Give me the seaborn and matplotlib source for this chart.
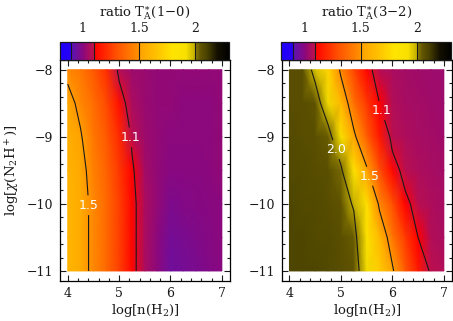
import numpy as np
import matplotlib
matplotlib.use('Agg')
import matplotlib.pyplot as plt
from matplotlib.colors import LinearSegmentedColormap, Normalize
from matplotlib.cm import ScalarMappable
from matplotlib.ticker import MultipleLocator, FixedLocator
import seaborn as sns

# grid: log n(H2) columns, log X(N2H+) rows
log_n = [4.0, 4.25, 4.5, 4.75, 5.0, 5.25, 5.5, 5.75, 6.0, 6.25, 6.5, 6.75, 7.0]
log_x = [-8.0, -8.5, -9.0, -9.5, -10.0, -10.5, -11.0]

# ratio T_A*(1-0), one row per log_x value
ratio_10 = [
    [1.47, 1.42, 1.33, 1.22, 1.08, 1.04, 1.03, 1.02, 1.02, 1.02, 1.02, 1.02, 1.02],
    [1.54, 1.47, 1.39, 1.29, 1.14, 1.06, 1.03, 1.02, 1.02, 1.01, 1.01, 1.01, 1.02],
    [1.57, 1.51, 1.42, 1.33, 1.21, 1.09, 1.04, 1.02, 1.01, 1.01, 1.01, 1.01, 1.02],
    [1.59, 1.54, 1.45, 1.36, 1.24, 1.11, 1.05, 1.02, 1.00, 1.00, 1.00, 1.01, 1.02],
    [1.60, 1.55, 1.47, 1.38, 1.26, 1.12, 1.06, 1.02, 0.98, 0.99, 0.995, 1.00, 1.01],
    [1.60, 1.55, 1.47, 1.38, 1.26, 1.12, 1.06, 1.01, 0.96, 0.97, 0.985, 0.995, 1.01],
    [1.60, 1.55, 1.47, 1.38, 1.26, 1.12, 1.06, 1.01, 0.95, 0.96, 0.975, 0.99, 1.00],
]

# ratio T_A*(3-2)
ratio_32 = [
    [2.07, 2.07, 1.97, 1.74, 1.47, 1.28, 1.115, 1.08, 1.06, 1.05, 1.045, 1.04, 1.04],
    [2.07, 2.07, 2.05, 1.93, 1.62, 1.40, 1.24, 1.10, 1.07, 1.055, 1.05, 1.045, 1.04],
    [2.08, 2.07, 2.06, 2.04, 1.90, 1.53, 1.35, 1.16, 1.085, 1.065, 1.055, 1.05, 1.045],
    [2.08, 2.08, 2.07, 2.06, 2.02, 1.82, 1.52, 1.30, 1.12, 1.085, 1.065, 1.055, 1.05],
    [2.09, 2.08, 2.08, 2.07, 2.05, 1.99, 1.78, 1.47, 1.30, 1.11, 1.085, 1.065, 1.055],
    [2.09, 2.09, 2.08, 2.08, 2.06, 2.04, 1.86, 1.62, 1.42, 1.25, 1.10, 1.075, 1.06],
    [2.09, 2.09, 2.09, 2.08, 2.07, 2.05, 1.93, 1.70, 1.52, 1.33, 1.16, 1.09, 1.07],
]

titles = [r'ratio T$_\mathrm{A}^{\ast}$(1$-$0)', r'ratio T$_\mathrm{A}^{\ast}$(3$-$2)']
contour_levels = [1.1, 1.5, 2.0]
bar_lines = [0.9, 1.1, 1.5, 2.0]
bar_ticks = [1, 1.5, 2]
bar_ticklabels = ['1', '1.5', '2']

# colour scale as seen on the colour bars
cmap_nodes = [0.80, 0.895, 0.90, 1.00, 1.095, 1.10, 1.30, 1.495, 1.50,
              1.65, 1.80, 1.92, 1.995, 2.00, 2.05, 2.10, 2.20, 2.30]
cmap_colors = ['#1e00ff', '#2800f0', '#5a14b4', '#880880', '#c0104a', '#ff0000',
               '#ff5000', '#ff9000', '#ffa000', '#ffc000', '#ffe400', '#f8e000',
               '#c4b000', '#8c7c00', '#605400', '#4c4400', '#141000', '#000000']

sns.set_theme(style='ticks')
plt.rcParams['font.family'] = ['DejaVu Serif']
plt.rcParams['mathtext.fontset'] = 'dejavuserif'
plt.rcParams['axes.edgecolor'] = 'black'
plt.rcParams['axes.linewidth'] = 0.9

vmin, vmax = cmap_nodes[0], cmap_nodes[-1]
pos = [(v - vmin) / (vmax - vmin) for v in cmap_nodes]
cmap = LinearSegmentedColormap.from_list('ratio', list(zip(pos, cmap_colors)))
norm = Normalize(vmin=vmin, vmax=vmax)

label_pos = [
    [(5.21, -9.01), (4.40, -10.02)],
    [(4.91, -9.19), (5.55, -9.59), (5.83, -8.60)],
]

fig = plt.figure(figsize=(4.53, 3.21), dpi=100)
ax_rects = [[0.1325, 0.1246, 0.3753, 0.6885], [0.6219, 0.1246, 0.3760, 0.6885]]
cax_rects = [[0.1325, 0.8131, 0.3730, 0.0560], [0.6210, 0.8131, 0.3750, 0.0560]]

X, Y = np.meshgrid(log_n, log_x)
for i, ratio in enumerate([ratio_10, ratio_32]):
    ax = fig.add_axes(ax_rects[i])
    Z = np.array(ratio)
    ax.pcolormesh(X, Y, Z, shading='gouraud', cmap=cmap, norm=norm)
    cs = ax.contour(X, Y, Z, levels=contour_levels, colors='k', linewidths=0.8)
    labels = ax.clabel(cs, fmt='%.1f', colors='white', fontsize=9, manual=label_pos[i],
                       inline=True, inline_spacing=1)
    for t in labels:
        t.set_rotation(0)
        t.set_fontfamily('DejaVu Sans')

    ax.set_xlim(3.85, 7.16)
    ax.set_ylim(-11.15, -7.855)
    ax.xaxis.set_major_locator(MultipleLocator(1))
    ax.xaxis.set_minor_locator(MultipleLocator(0.2))
    ax.yaxis.set_major_locator(MultipleLocator(1))
    ax.yaxis.set_minor_locator(MultipleLocator(0.2))
    ax.tick_params(which='both', direction='in', top=True, right=True,
                   color='k', width=0.8, labelsize=9, labelcolor='k')
    ax.tick_params(which='major', length=4.5)
    ax.tick_params(which='minor', length=2.2)
    ax.tick_params(axis='y', pad=5)
    ax.tick_params(axis='x', pad=4)
    ax.set_xlabel(r'log[n(H$_2$)]', fontsize=9.5, color='k', labelpad=2)
    if i == 0:
        ax.set_ylabel(r'log[$\chi$(N$_2$H$^+$)]', fontsize=9.5, color='k', labelpad=3)

    cax = fig.add_axes(cax_rects[i])
    cb = fig.colorbar(ScalarMappable(norm=norm, cmap=cmap), cax=cax, orientation='horizontal')
    cb.outline.set_linewidth(0.9)
    cb.outline.set_edgecolor('k')
    for lv in bar_lines:
        cax.axvline(lv, color='k', lw=0.8)
    cax.xaxis.set_ticks_position('top')
    cax.xaxis.set_label_position('top')
    cax.xaxis.set_major_locator(FixedLocator(bar_ticks))
    cax.set_xticklabels(bar_ticklabels)
    cax.xaxis.set_minor_locator(MultipleLocator(0.2))
    cax.tick_params(which='both', direction='in', color='k', width=0.8,
                    labelsize=9, labelcolor='k', pad=5)
    cax.tick_params(which='major', length=4)
    cax.tick_params(which='minor', length=2)
    cax.set_xlabel(titles[i], fontsize=9.5, color='k', labelpad=4)

fig.savefig('out.png', dpi=100)
